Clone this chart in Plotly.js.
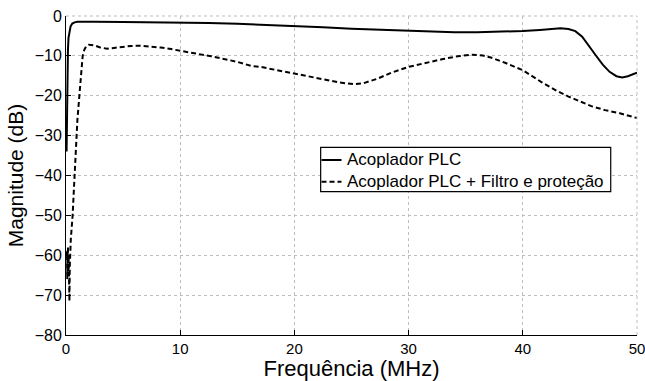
<!DOCTYPE html>
<html>
<head>
<meta charset="utf-8">
<script src="https://cdn.plot.ly/plotly-3.0.1.min.js"></script>
<style>html,body{margin:0;padding:0;background:#fff;}#chart{width:645px;height:381px;}</style>
</head>
<body>
<div id="chart"></div>
<script>
// Frequency (MHz) and magnitude (dB)
const acopladorFreq = [0.05,0.08,0.1,0.13,0.17,0.22,0.3,0.4,0.55,0.75,1.0,1.5,2.5,5,7.5,10,12.5,15,17.5,20,22.5,25,27.5,30,32,34,36,38,40,41.5,42.5,43.3,44,44.6,45.2,45.8,46.4,47,47.6,48.2,48.7,49.2,49.6,50];
const acopladorDb = [-34,-26,-20,-13,-8.5,-5.5,-3.6,-2.6,-1.9,-1.6,-1.45,-1.4,-1.45,-1.5,-1.55,-1.6,-1.75,-1.95,-2.2,-2.5,-2.85,-3.2,-3.5,-3.75,-3.95,-4.1,-4.1,-4.0,-3.75,-3.5,-3.25,-3.1,-3.25,-3.8,-5.2,-7.4,-9.9,-12.2,-14.0,-15.1,-15.4,-15.1,-14.6,-14.2];

const filtroFreq = [0.05,0.07,0.09,0.11,0.13,0.15,0.17,0.2,0.23,0.27,0.3,0.33,0.37,0.42,0.5,0.58,0.7,0.87,1.0,1.17,1.3,1.46,1.6,1.75,2.0,2.5,3.0,3.6,4.2,5.0,5.7,6.5,7.4,8.3,9.2,10,11,12.7,15,16.2,17.1,18.5,20,21.5,22.9,24,25.25,26,27.3,28.5,30,31.5,33,34.3,35.5,36.5,37.2,38.5,40,41.6,43,44,45,46,47.2,48.5,50];
const filtroDb = [-60,-63,-59,-66,-61,-64,-58,-65,-60,-67,-71.5,-63,-57,-56,-53,-50,-43,-32,-26,-20,-15,-10,-8.5,-7.7,-7.2,-7.4,-7.9,-8.2,-8.0,-7.7,-7.5,-7.45,-7.6,-7.9,-8.3,-8.7,-9.3,-10.1,-11.5,-12.5,-12.8,-13.6,-14.4,-15.3,-16.1,-16.7,-17.1,-16.9,-15.7,-14.2,-12.75,-11.7,-10.8,-10.1,-9.7,-9.9,-10.4,-11.8,-13.6,-16.5,-18.8,-20.2,-21.5,-22.6,-23.6,-24.4,-25.6];

const seriesNames = ["Acoplador PLC", "Acoplador PLC + Filtro e proteção"];
const xTicks = [0,10,20,30,40,50];
const yTicks = [-80,-70,-60,-50,-40,-30,-20,-10,0];

const FONT = "Liberation Sans, Arial, Helvetica, sans-serif";
const DASH = "5px,3px";
const GRID = "#bdbdbd";

const traces = [
  {x: acopladorFreq, y: acopladorDb, name: seriesNames[0], mode: "lines",
   line: {color: "#000000", width: 2, dash: "solid"}},
  {x: filtroFreq, y: filtroDb, name: seriesNames[1], mode: "lines",
   line: {color: "#000000", width: 2, dash: DASH}}
];

const axisCommon = {
  showline: true, linecolor: "#000000", linewidth: 1, mirror: false,
  ticks: "inside", ticklen: 5, tickcolor: "#000000", tickwidth: 1,
  showgrid: true, gridcolor: GRID, griddash: "dot", gridwidth: 1,
  zeroline: false, ticklabeloverflow: "allow"
};

// custom legend box (MATLAB style), positioned in paper coordinates
const lg = {x0: 0.446, x1: 0.954, y0: 0.4492, y1: 0.5884, sx0: 0.4475, sx1: 0.4825, tx: 0.4886, rows: [0.5486, 0.4806]};

const shapes = [
  // dotted grid lines on the top and right edges
  {type: "line", xref: "paper", yref: "paper", x0: 0, x1: 1, y0: 1, y1: 1, line: {color: GRID, width: 1, dash: "dot"}},
  {type: "line", xref: "paper", yref: "paper", x0: 1, x1: 1, y0: 0, y1: 1, line: {color: GRID, width: 1, dash: "dot"}},
  {type: "rect", xref: "paper", yref: "paper", x0: lg.x0, x1: lg.x1, y0: lg.y0, y1: lg.y1, fillcolor: "#ffffff", line: {color: "#000000", width: 1.2}},
  {type: "line", xref: "paper", yref: "paper", x0: lg.sx0, x1: lg.sx1, y0: lg.rows[0], y1: lg.rows[0], line: {color: "#000000", width: 2}},
  {type: "line", xref: "paper", yref: "paper", x0: lg.sx0, x1: lg.sx1, y0: lg.rows[1], y1: lg.rows[1], line: {color: "#000000", width: 2, dash: DASH}}
];

const annotations = seriesNames.map((n, i) => ({
  text: n, xref: "paper", yref: "paper", x: lg.tx, y: lg.rows[i],
  xanchor: "left", yanchor: "middle", showarrow: false,
  font: {family: FONT, size: 17, color: "#000000"}
}));

const layout = {
  width: 645, height: 381,
  paper_bgcolor: "#ffffff", plot_bgcolor: "#ffffff",
  margin: {l: 66, r: 8, t: 16, b: 46},
  showlegend: false,
  shapes: shapes,
  annotations: annotations,
  xaxis: Object.assign({}, axisCommon, {
    range: [0, 50], tickvals: xTicks, ticktext: xTicks.map(String),
    tickfont: {family: FONT, size: 15, color: "#000000"},
    title: {text: "Frequência (MHz)", font: {family: FONT, size: 22, color: "#000000"}, standoff: 0},
    automargin: false
  }),
  yaxis: Object.assign({}, axisCommon, {
    range: [-80, 0], tickvals: yTicks,
    tickfont: {family: FONT, size: 16, color: "#000000"},
    title: {text: "Magnitude (dB)", font: {family: FONT, size: 21, color: "#000000"}, standoff: 5},
    automargin: false
  })
};

Plotly.newPlot("chart", traces, layout, {displayModeBar: false, staticPlot: true});
</script>
</body>
</html>
